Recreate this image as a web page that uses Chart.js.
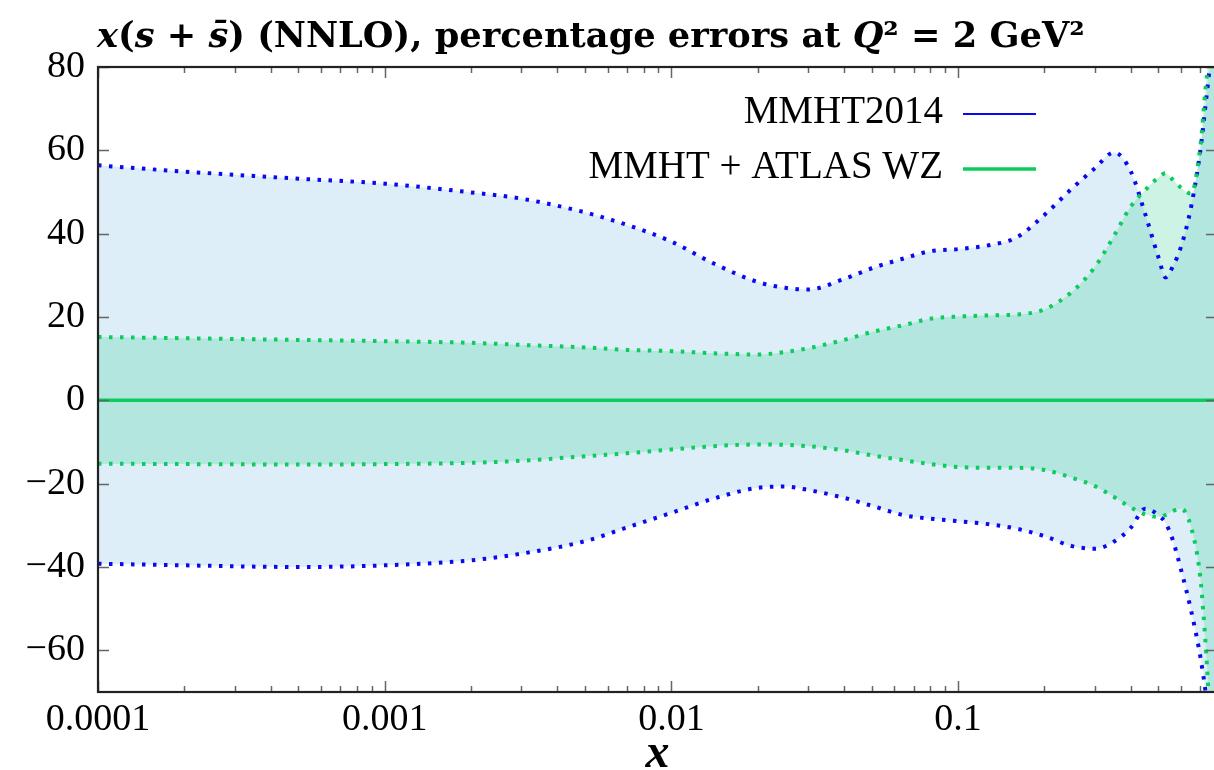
<!DOCTYPE html>
<html>
<head>
<meta charset="utf-8">
<script src="https://cdn.jsdelivr.net/npm/chart.js@4"></script>
<style>
html,body{margin:0;padding:0;background:#fff;overflow:hidden;width:1214px;height:770px}
#chart{display:block}
</style>
</head>
<body>
<canvas id="chart" width="1222" height="770" style="width:1222px;height:770px"></canvas>
<script>

// x grid of the error bands
const xVals = [0.0001,0.0002,0.0005,0.001,0.002,0.003,0.005,0.007,0.01,0.014,0.02,0.025,0.03,0.04,0.05,0.065,0.08,0.1,0.13,0.16,0.2,0.25,0.3,0.35,0.4,0.45,0.5,0.53,0.56,0.6,0.65,0.7,0.73,0.76,0.8]

// MMHT2014 band (percent)
const mmhtUpper = [56.4,54.9,53.2,52.0,49.9,48.4,45.1,42.1,38.1,32.9,28.4,27.0,26.6,29.1,31.7,34.1,35.8,36.3,37.3,39.1,44.5,50.9,55.7,59.5,55.0,44.6,34.3,29.5,32.0,37.0,46.5,60.0,71.0,82.0,97.0]
const mmhtLower = [-39.2,-39.6,-40.0,-39.6,-38.4,-36.8,-33.8,-30.5,-27.0,-23.6,-21.0,-20.7,-21.5,-23.4,-25.3,-27.6,-28.4,-29.0,-29.8,-30.8,-32.6,-35.0,-35.6,-33.9,-30.6,-26.0,-27.6,-29.5,-33.4,-40.8,-50.5,-61.6,-70.0,-80.0,-95.0]
const mmhtCentral = [0,0,0,0,0,0,0,0,0,0,0,0,0,0,0,0,0,0,0,0,0,0,0,0,0,0,0,0,0,0,0,0,0,0,0]

// MMHT + ATLAS WZ band (percent)
const atlasUpper = [15.2,14.9,14.5,14.2,13.8,13.3,12.7,12.1,11.8,11.3,11.0,11.6,12.5,14.5,16.4,18.1,19.6,20.1,20.4,20.6,21.8,26.1,32.0,39.5,46.5,50.5,53.5,54.5,53.0,51.0,49.6,61.0,75.0,86.0,100.0]
const atlasLower = [-15.2,-15.3,-15.4,-15.3,-15.0,-14.5,-13.4,-12.7,-11.8,-11.0,-10.6,-10.7,-11.0,-12.0,-13.2,-14.4,-15.3,-16.0,-16.2,-16.2,-16.7,-18.6,-20.6,-23.2,-25.7,-27.4,-28.0,-27.5,-26.6,-26.0,-30.5,-42.7,-58.5,-78.0,-92.0]
const atlasCentral = [0,0,0,0,0,0,0,0,0,0,0,0,0,0,0,0,0,0,0,0,0,0,0,0,0,0,0,0,0,0,0,0,0,0,0]

const seriesLabels = ["MMHT2014","MMHT + ATLAS WZ"]

const xTickValues = [0.0001,0.001,0.01,0.1]
const xTickLabels = ["0.0001","0.001","0.01","0.1"]
const yTicks = [-60,-40,-20,0,20,40,60,80]

const blue = "#0a0af0"
const green = "#0ccc5c"
const font = "Liberation Serif"
const titleFont = "DejaVu Serif"

// minor ticks of the log axis: 1..9 in every decade
const xMinorTicks = []
for(let e=-4;e<0;e++){
for(let m=1;m<10;m++){
const v = Number((m*Math.pow(10,e)).toPrecision(3))
if(v<=0.8) xMinorTicks.push(v)
}
}

function pts(ys){
return xVals.map((x,i)=>({x:x,y:ys[i]}))
}

function isMajor(v){
return xTickValues.some(t=>Math.abs(t-v)/t<1e-6)
}

const dotted = {borderWidth:4,borderDash:[3.5,7.5],borderCapStyle:"butt",pointRadius:0,cubicInterpolationMode:"monotone"}

const frame = {
id:"frame",
afterDatasetsDraw(chart){
const ctx = chart.ctx
const a = chart.chartArea
const xs = chart.scales.x
const ys = chart.scales.y
ctx.save()
ctx.strokeStyle = "#666"
ctx.lineWidth = 1.5
ctx.beginPath()
xMinorTicks.forEach(v=>{
const px = Math.round(xs.getPixelForValue(v))+0.5
const len = isMajor(v) ? 11 : 6
ctx.moveTo(px,a.bottom); ctx.lineTo(px,a.bottom-len)
ctx.moveTo(px,a.top); ctx.lineTo(px,a.top+len)
})
yTicks.forEach(v=>{
const py = Math.round(ys.getPixelForValue(v))+0.5
ctx.moveTo(a.left,py); ctx.lineTo(a.left+11,py)
ctx.moveTo(a.right,py); ctx.lineTo(a.right-11,py)
})
ctx.stroke()
ctx.strokeStyle = "#222"
ctx.lineWidth = 2.2
ctx.strokeRect(a.left,a.top,a.right-a.left,a.bottom-a.top)
ctx.restore()
},
afterDraw(chart){
const ctx = chart.ctx
ctx.save()
// title, mixed upright and italic pieces, fitted to x = 97..1085
const parts = [
["x",true],["(",false],["s",true],[" + ",false],["s\u0304",true],[") (NNLO), percentage errors at ",false],["Q",true],["\u00b2 = 2 GeV\u00b2",false]
]
const fontFor = (p,size)=>(p[1]?"italic ":"")+"bold "+size+"px '"+titleFont+"'"
let w = 0
parts.forEach(p=>{ ctx.font = fontFor(p,30); w += ctx.measureText(p[0]).width })
const size = Math.min(36, 30*988/w)
let x = 97
ctx.fillStyle = "#000"
ctx.textBaseline = "alphabetic"
ctx.textAlign = "left"
parts.forEach(p=>{
ctx.font = fontFor(p,size)
ctx.fillText(p[0],x,47)
x += ctx.measureText(p[0]).width
})
// legend: text then line sample
ctx.font = "39px '"+font+"'"
ctx.textAlign = "right"
ctx.fillText(seriesLabels[0],943,123)
ctx.fillText(seriesLabels[1],943,178)
ctx.lineCap = "butt"
ctx.strokeStyle = blue
ctx.lineWidth = 1.8
ctx.beginPath(); ctx.moveTo(963,114); ctx.lineTo(1036,114); ctx.stroke()
ctx.strokeStyle = green
ctx.lineWidth = 3.5
ctx.beginPath(); ctx.moveTo(963,169); ctx.lineTo(1036,169); ctx.stroke()
ctx.restore()
}
}

const ctx = document.getElementById("chart").getContext("2d")

new Chart(ctx,{
type:"line",
data:{
datasets:[
{label:seriesLabels[1],data:pts(atlasCentral),borderColor:green,borderWidth:3.5,pointRadius:0,fill:false},
{label:"ATLAS upper",data:pts(atlasUpper),borderColor:green,fill:false,...dotted},
{label:"ATLAS lower",data:pts(atlasLower),borderColor:green,backgroundColor:"rgba(40,205,140,0.24)",fill:"-1",...dotted},
{label:seriesLabels[0],data:pts(mmhtCentral),borderColor:blue,borderWidth:1.8,pointRadius:0,fill:false},
{label:"MMHT upper",data:pts(mmhtUpper),borderColor:blue,fill:false,...dotted},
{label:"MMHT lower",data:pts(mmhtLower),borderColor:blue,backgroundColor:"#ddeef9",fill:"-1",...dotted}
]
},
options:{
responsive:false,
animation:false,
devicePixelRatio:1,
layout:{padding:{top:67,right:2,left:0,bottom:0}},
plugins:{
legend:{display:false},
tooltip:{enabled:false},
filler:{drawTime:"beforeDatasetsDraw"}
},
scales:{
x:{
type:"logarithmic",
min:0.0001,
max:0.8,
afterBuildTicks(s){ s.ticks = xMinorTicks.map(v=>({value:v})) },
afterFit(s){ s.height = 78 },
grid:{display:false,drawTicks:false},
border:{display:false},
ticks:{
autoSkip:false,
maxRotation:0,
padding:5,
color:"#000",
font:{family:font,size:38},
callback(v){
const i = xTickValues.findIndex(t=>Math.abs(t-v)/t<1e-6)
return i>=0 ? xTickLabels[i] : ""
}
},
title:{display:true,text:"x",color:"#000",padding:{top:0,bottom:0},font:{family:font,size:48,style:"italic",weight:"bold",lineHeight:0.65}}
},
y:{
min:-70,
max:80,
afterBuildTicks(s){ s.ticks = yTicks.map(v=>({value:v})) },
afterFit(s){ s.width = 98 },
grid:{display:false,drawTicks:false},
border:{display:false},
ticks:{
padding:13,
color:"#000",
font:{family:font,size:38},
callback(v){ return v<0 ? "\u2212"+(-v) : String(v) }
}
}
}
},
plugins:[frame]
})

</script>
</body>
</html>
